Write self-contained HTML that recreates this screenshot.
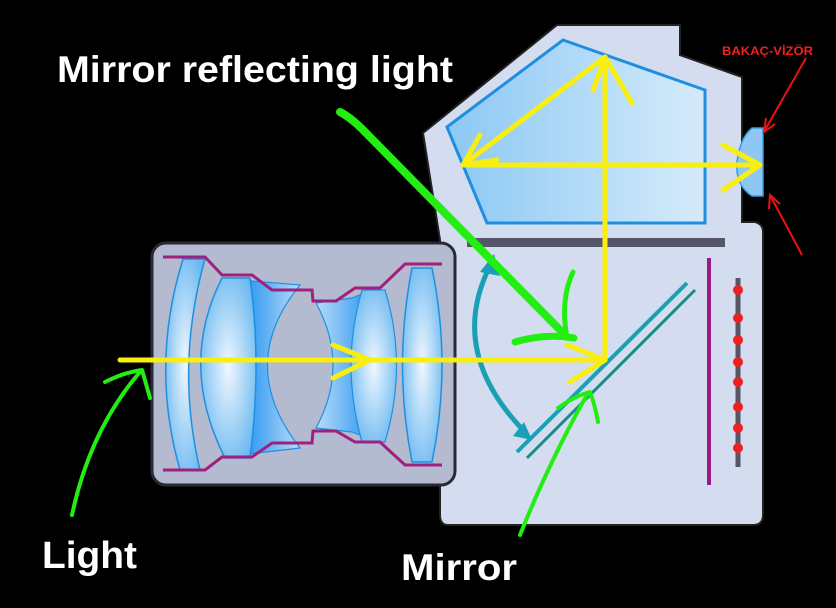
<!DOCTYPE html>
<html><head><meta charset="utf-8"><style>
html,body{margin:0;padding:0;background:#000;}
svg{display:block;}
</style></head><body>
<svg width="836" height="608" viewBox="0 0 836 608" xmlns="http://www.w3.org/2000/svg">
<defs>
<linearGradient id="pg" x1="0" y1="0" x2="1" y2="0"><stop offset="0" stop-color="#8cc8f4"/><stop offset="1" stop-color="#d6ebfb"/></linearGradient>
<radialGradient id="lg" cx="0.5" cy="0.5" r="0.6"><stop offset="0" stop-color="#f0f7ff"/><stop offset="1" stop-color="#6ab8f0"/></radialGradient>
<linearGradient id="dg" x1="0" y1="0" x2="1" y2="0"><stop offset="0" stop-color="#1c8ef0"/><stop offset="1" stop-color="#b8dcf8"/></linearGradient>
<linearGradient id="dg2" x1="1" y1="0" x2="0" y2="0"><stop offset="0" stop-color="#1c8ef0"/><stop offset="1" stop-color="#b8dcf8"/></linearGradient>
</defs>
<rect width="836" height="608" fill="#000"/>
<path d="M423,133 L557,25 L680,25 L680,55 L742,77 L742,222 L755,222 Q763,224 763,232 L763,515 Q763,525 753,525 L448,525 Q440,525 440,515 L440,240 Z" fill="#d4dcf0" stroke="#222" stroke-width="2"/>
<path d="M447,127 L563,40 L705,90 L705,223 L487,223 Z" fill="url(#pg)" stroke="#1e8ee0" stroke-width="3"/>
<path d="M763,128 L763,196 L752,196 Q735,185 737,162 Q740,138 752,128 Z" fill="#8ec8f2" stroke="#3a9be0" stroke-width="1.5"/>
<rect x="467" y="238" width="258" height="9" fill="#55566a"/>
<line x1="709" y1="258" x2="709" y2="485" stroke="#9a1a8a" stroke-width="4"/>
<line x1="738" y1="278" x2="738" y2="467" stroke="#555566" stroke-width="5"/>
<g fill="#ee2020"><circle cx="738" cy="290" r="5"/><circle cx="738" cy="318" r="5"/><circle cx="738" cy="340" r="5"/><circle cx="738" cy="362" r="5"/><circle cx="738" cy="382" r="5"/><circle cx="738" cy="407" r="5"/><circle cx="738" cy="428" r="5"/><circle cx="738" cy="448" r="5"/></g>
<line x1="517" y1="452" x2="687" y2="283" stroke="#1aa0b4" stroke-width="4"/>
<line x1="527" y1="458" x2="695" y2="290" stroke="#1a8a8a" stroke-width="3"/>
<path d="M492,262 Q445,350 525,432" fill="none" stroke="#1aa0b4" stroke-width="5"/>
<path d="M480,272 L494,254 L500,276 Z" fill="#1aa0b4"/>
<path d="M513,436 L532,440 L524,422 Z" fill="#1aa0b4"/>
<rect x="152" y="243" width="303" height="242" rx="14" fill="#b4bad0" stroke="#2a2a36" stroke-width="3"/>
<path d="M183,259 Q150,365 180,470 L200,470 Q175,365 205,259 Z" fill="url(#lg)" stroke="#1e90e0" stroke-width="1.5"/>
<path d="M240,280 L300,285 Q235,365 300,448 L240,455 Z" fill="url(#dg)" stroke="#1e90e0" stroke-width="1.2"/>
<path d="M222,278 Q178,365 225,458 L250,458 Q262,365 250,278 Z" fill="url(#lg)" stroke="#1e90e0" stroke-width="1.5"/>
<path d="M316,303 L352,298 L378,288 L378,442 L352,432 L316,428 Q350,365 316,303 Z" fill="url(#dg2)" stroke="#1e90e0" stroke-width="1.2"/>
<path d="M362,290 L385,290 Q408,365 385,442 L362,442 Q340,365 362,290 Z" fill="url(#lg)" stroke="#1e90e0" stroke-width="1.2"/>
<path d="M412,268 L432,268 Q452,365 432,462 L412,462 Q393,365 412,268 Z" fill="url(#lg)" stroke="#1e90e0" stroke-width="1.5"/>
<polyline points="163,257 205,257 222,275 252,275 272,290 312,290 313,301 336,301 355,288 380,288 405,264 442,264" fill="none" stroke="#a0207e" stroke-width="3"/>
<polyline points="163,470 205,470 222,457 252,457 272,443 312,443 313,431 336,431 355,442 380,442 405,465 442,465" fill="none" stroke="#a0207e" stroke-width="3"/>
<g stroke="#f8ee10" stroke-width="5" fill="none" stroke-linecap="round" stroke-linejoin="round">
<line x1="120" y1="360" x2="605" y2="360"/>
<line x1="605" y1="360" x2="605" y2="57"/>
<line x1="605" y1="57" x2="463" y2="165"/>
<line x1="463" y1="165" x2="760" y2="165"/>
<polyline points="333,345 370,360 333,378"/>
<polyline points="567,345 605,360 570,382"/>
<polyline points="593,90 605,57 632,103"/>
<polyline points="480,135 463,165 497,160"/>
<polyline points="723,145 760,165 723,190"/>
</g>
<g stroke="#22ee11" fill="none" stroke-linecap="round" stroke-linejoin="round">
<path d="M340,112 Q352,118 368,135 L565,335" stroke-width="8"/>
<path d="M573,272 Q560,300 567,338" stroke-width="5"/>
<path d="M515,342 Q545,333 574,338" stroke-width="7"/>
<path d="M72,515 Q90,430 140,372" stroke-width="4"/>
<path d="M105,382 Q125,372 142,370 Q145,380 150,398" stroke-width="4"/>
<path d="M520,535 Q550,460 588,393" stroke-width="4"/>
<path d="M558,408 Q575,396 590,392 Q595,405 598,422" stroke-width="4"/>
</g>
<g stroke="#ee1111" stroke-width="2" fill="none">
<line x1="806" y1="58" x2="765" y2="130"/>
<polyline points="766,118 764,132 775,124"/>
<line x1="802" y1="255" x2="771" y2="197"/>
<polyline points="769,209 770,195 780,204"/>
</g>
<text x="722" y="55" font-family="Liberation Sans, sans-serif" font-size="12" font-weight="bold" fill="#ee2020" textLength="91" lengthAdjust="spacingAndGlyphs">BAKAÇ-VİZÖR</text>
<g font-family="Liberation Sans, sans-serif" font-weight="bold" fill="#fff">
<text x="57" y="82" font-size="37" textLength="396" lengthAdjust="spacingAndGlyphs">Mirror reflecting light</text>
<text x="42" y="568" font-size="38" textLength="95" lengthAdjust="spacingAndGlyphs">Light</text>
<text x="401" y="580" font-size="37" textLength="116" lengthAdjust="spacingAndGlyphs">Mirror</text>
</g>
</svg>
</body></html>
